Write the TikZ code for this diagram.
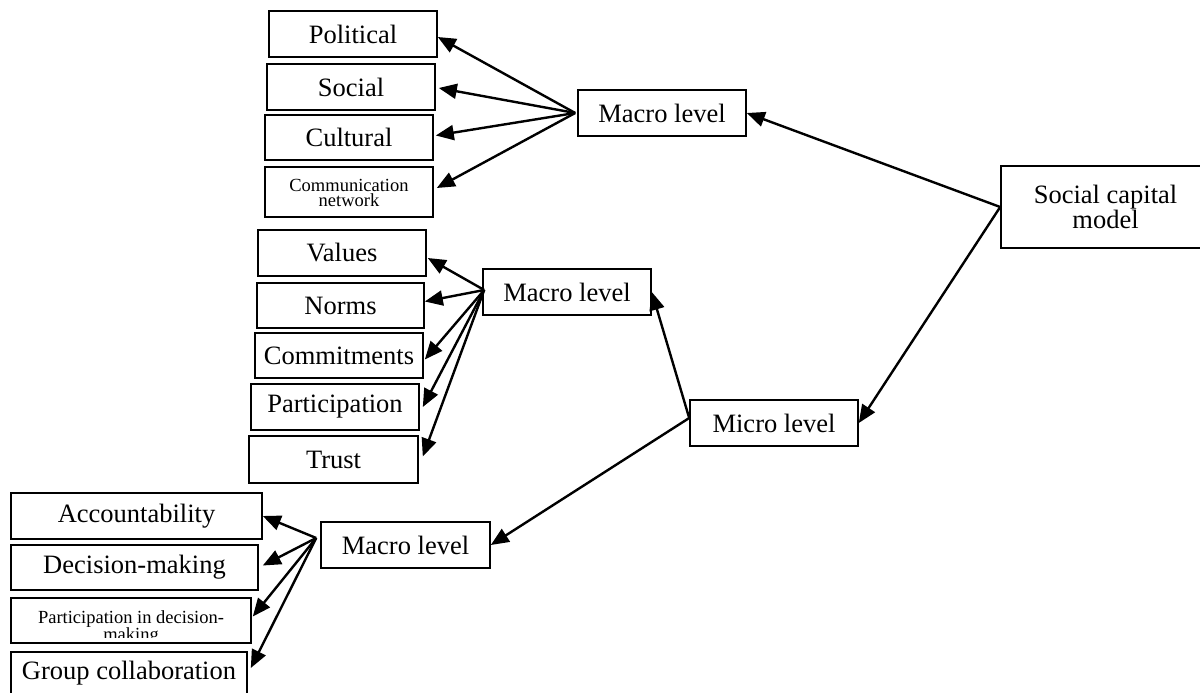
\documentclass[tikz,border=0pt]{standalone}
\usepackage{fontspec}
\setmainfont{Liberation Serif}
\usetikzlibrary{arrows.meta,calc}
\begin{document}
\begin{tikzpicture}[x=1pt,y=-1pt,
  box/.style={draw, line width=1.6pt, inner sep=0pt, align=center,
    font=\fontsize{26.5}{28}\selectfont},
  smalltext/.style={inner sep=0pt, align=center, anchor=base,
    font=\fontsize{18.5}{15}\selectfont},
  link/.style={line width=2.4pt, -{Triangle[length=18pt,width=15pt]}},
  spoke/.style={line width=2.4pt, -{Triangle[length=18pt,width=15pt]}},
]
\useasboundingbox (0,0) rectangle (1200,693);

% root of the model
\node[box, minimum width=209pt, minimum height=82pt, font=\fontsize{26.5}{23}\selectfont]
  (scm) at (1105.5,207) {Social capital\\model};

% level boxes
\node[box, minimum width=168pt, minimum height=46pt] (m1) at (662,113) {Macro level};
\node[box, minimum width=168pt, minimum height=46pt] (m2) at (567,292) {Macro level};
\node[box, minimum width=169pt, minimum height=46pt] (m3) at (405.5,545) {Macro level};
\node[box, minimum width=168pt, minimum height=46pt] (micro) at (774,423) {Micro level};

% first group
\node[box, minimum width=168pt, minimum height=46pt] (pol) at (353,34) {Political};
\node[box, minimum width=168pt, minimum height=46pt] (soc) at (351,87) {Social};
\node[box, minimum width=168pt, minimum height=45pt] (cul) at (349,137.5) {Cultural};
\node[box, minimum width=168pt, minimum height=50pt] (com) at (349,192) {};
\node[smalltext] (comtext) at (349,206) {Communication\\network};

% second group
\node[box, minimum width=168pt, minimum height=46pt] (val) at (342,253) {Values};
\node[box, minimum width=167pt, minimum height=45pt] (nor) at (340.5,305.5) {Norms};
\node[box, minimum width=168pt, minimum height=45pt] (cmt) at (339,355.5) {Commitments};
\node[box, minimum width=168pt, minimum height=46pt] (par) at (335,407) {Participation};
\node[box, minimum width=169pt, minimum height=47pt] (tru) at (333.5,459.5) {Trust};

% third group
\node[box, minimum width=251pt, minimum height=46pt] (acc) at (136.5,516) {Accountability};
\node[box, minimum width=247pt, minimum height=45pt] (dec) at (134.5,567.5) {Decision-making};
\node[box, minimum width=240pt, minimum height=45pt] (pdm) at (131,620.5) {};
\begin{scope}
  % the second line is cut off by the box
  \clip (11,598) rectangle (251,637);
  \node[smalltext, font=\fontsize{18.5}{17}\selectfont] (pdmtext) at (131,640)
    {Participation in decision-\\making};
\end{scope}
\node[box, minimum width=236pt, minimum height=42pt] (grp) at (129,673) {Group collaboration};

% connectors from the root
\draw[link] (scm.west) -- (m1.east);
\draw[link] (scm.west) -- (micro.east);
\draw[link] ($(micro.west)+(0,-5)$) -- (m2.east);
\draw[link] ($(micro.west)+(0,-5)$) -- (m3.east);

% first fan
\coordinate (h1) at ($(m1.west)+(-2,0)$);
\draw[spoke] (h1) -- ($(pol.east)+(0,3)$);
\draw[spoke] (h1) -- ($(soc.east)+(3,1)$);
\draw[spoke] (h1) -- ($(cul.east)+(2,-2)$);
\draw[spoke] (h1) -- ($(com.east)+(3,-4)$);

% second fan
\coordinate (h2) at ($(m2.west)+(2,-2)$);
\draw[spoke] (h2) -- ($(val.east)+(1,5)$);
\draw[spoke] (h2) -- ($(nor.east)+(0,-4)$);
\draw[spoke] (h2) -- ($(cmt.east)+(1,4)$);
\draw[spoke] (h2) -- ($(par.east)+(3,0)$);
\draw[spoke] (h2) -- ($(tru.east)+(4,-3)$);

% third fan
\coordinate (h3) at ($(m3.west)+(-4,-7)$);
\draw[spoke] (h3) -- ($(acc.east)+(0,0)$);
\draw[spoke] (h3) -- ($(dec.east)+(4,-2)$);
\draw[spoke] (h3) -- ($(pdm.east)+(1,-4)$);
\draw[spoke] (h3) -- ($(grp.east)+(3,-5)$);
\end{tikzpicture}
\end{document}
